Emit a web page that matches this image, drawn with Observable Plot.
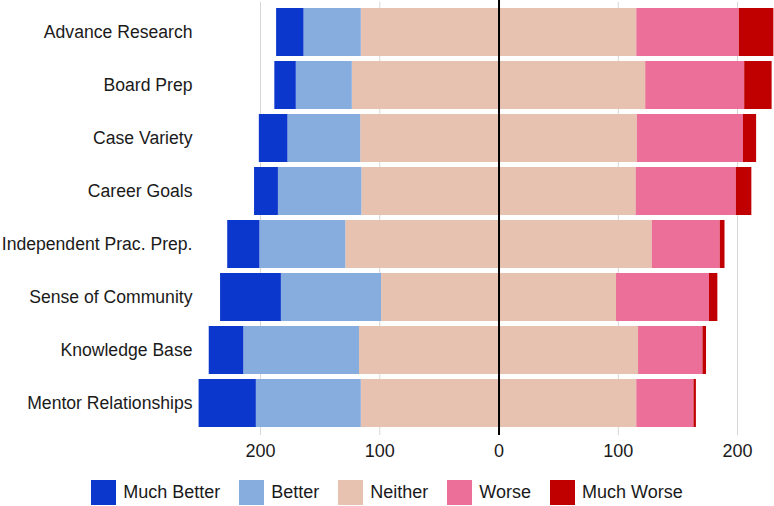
<!DOCTYPE html>
<html>
<head>
<meta charset="utf-8">
<script src="https://cdn.jsdelivr.net/npm/d3@7"></script>
<script src="https://cdn.jsdelivr.net/npm/@observablehq/plot@0.6"></script>
<style>
  html, body { margin: 0; padding: 0; background: white; }
  body { width: 774px; height: 506px; overflow: hidden; font-family: "Liberation Sans", Arial, Helvetica, sans-serif; color: #1a1a1a; }
  #legend { display: flex; justify-content: center; align-items: center; margin-top: 12px; font-size: 18px; padding-left: 0px; }
  .item { display: flex; align-items: center; margin: 0 9.5px; }
  .sw { width: 25px; height: 25px; margin-right: 7px; }
</style>
</head>
<body>
<div id="chart"></div>
<div id="legend"></div>
<script>
const categories = ["Advance Research", "Board Prep", "Case Variety", "Career Goals",
  "Independent Prac. Prep.", "Sense of Community", "Knowledge Base", "Mentor Relationships"];
const muchBetter = [23, 18, 24, 20, 27, 51, 29, 48];
const better     = [48, 47, 61, 70, 72, 84, 97, 88];
const neither    = [231, 246, 232, 230, 257, 197, 234, 231];
const worse      = [86, 83, 89, 84, 57, 78, 54, 48];
const muchWorse  = [29, 23, 11, 13, 4, 7, 3, 2];
const responses = ["Much Better", "Better", "Neither", "Worse", "Much Worse"];
const colors = ["#0b37cd", "#87addf", "#e8c2b1", "#eb6f98", "#c00000"];
const xTicks = [-200, -100, 0, 100, 200];

// build diverging stacked segments (Neither split evenly around zero)
const rows = [];
categories.forEach((c, i) => {
  const h = neither[i] / 2;
  rows.push({category: c, response: "Neither", x1: -h, x2: 0});
  rows.push({category: c, response: "Better", x1: -h - better[i], x2: -h});
  rows.push({category: c, response: "Much Better", x1: -h - better[i] - muchBetter[i], x2: -h - better[i]});
  rows.push({category: c, response: "Neither", x1: 0, x2: h});
  rows.push({category: c, response: "Worse", x1: h, x2: h + worse[i]});
  rows.push({category: c, response: "Much Worse", x1: h + worse[i], x2: h + worse[i] + muchWorse[i]});
});

const chart = Plot.plot({
  width: 774,
  height: 468,
  marginLeft: 198,
  marginRight: 0,
  marginTop: 2,
  marginBottom: 36,
  style: {fontFamily: "'Liberation Sans', Arial, Helvetica, sans-serif", fontSize: "18px", color: "#1a1a1a", background: "white", overflow: "visible"},
  x: {domain: [-252, 231], label: null},
  y: {domain: categories, padding: 0.1, label: null},
  color: {domain: responses, range: colors},
  marks: [
    Plot.gridX(xTicks.filter(d => d !== 0), {stroke: "#d6d6d6", strokeOpacity: 1, insetBottom: -3}),
    Plot.barX(rows, {y: "category", x1: "x1", x2: "x2", fill: "response"}),
    Plot.ruleX([0], {stroke: "black", strokeWidth: 2, insetTop: -2, insetBottom: -3}),
    Plot.axisX(xTicks, {tickSize: 0, tickPadding: 12, tickFormat: d => Math.abs(d), label: null, fontSize: 18}),
    Plot.axisY({tickSize: 0, tickPadding: 6, label: null, fontSize: 17.6})
  ]
});
document.getElementById("chart").appendChild(chart);

const legend = document.getElementById("legend");
responses.forEach((r, i) => {
  const item = document.createElement("div");
  item.className = "item";
  const sw = document.createElement("div");
  sw.className = "sw";
  sw.style.background = colors[i];
  const t = document.createElement("span");
  t.textContent = r;
  item.appendChild(sw);
  item.appendChild(t);
  legend.appendChild(item);
});
</script>
</body>
</html>
